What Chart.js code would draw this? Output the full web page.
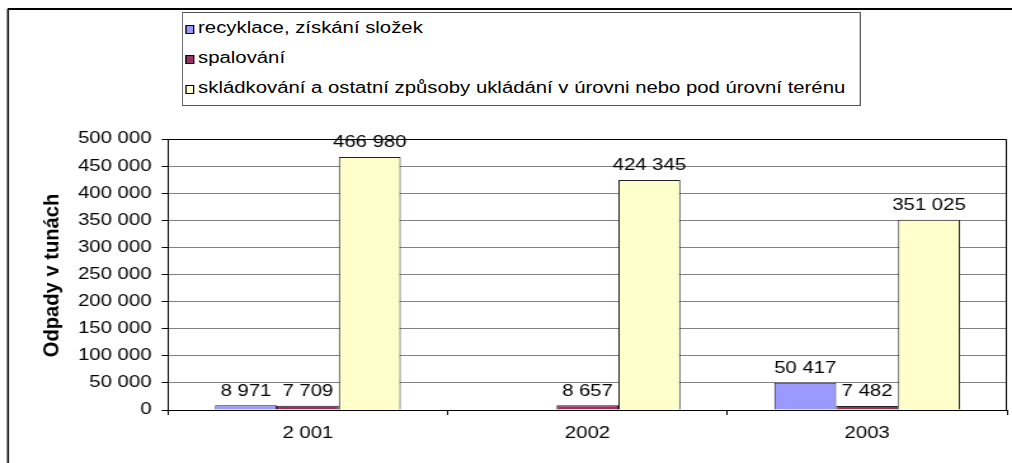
<!DOCTYPE html>
<html lang="cs">
<head>
<meta charset="utf-8">
<script src="https://cdn.jsdelivr.net/npm/chart.js@4/dist/chart.umd.min.js"></script>
<style>
  html, body { margin: 0; padding: 0; background: #fff; overflow: hidden; }
  /* the sheet is laid out narrow and stretched sideways, like the exported graph */
  #sheet {
    position: absolute; left: 0; top: 0;
    width: 797px; height: 463px;
    transform: scaleX(1.2698); transform-origin: 0 0;
  }
  #legend {
    position: absolute; left: 143px; top: 12px;
    width: 533px; height: 92px;
    border: 1px solid #555;
    background: #fff;
    font: 16px Arial, "Liberation Sans", sans-serif;
    color: #000;
  }
  #legend .row { height: 30px; line-height: 30px; white-space: nowrap; }
  #legend .box {
    display: inline-block; width: 5px; height: 7px;
    border: 1px solid #000; margin: 0 3px 0 2px; vertical-align: -1px;
  }
</style>
</head>
<body>
<div id="sheet">
  <canvas id="chart"></canvas>
  <div id="legend"></div>
</div>
<script>
const years = ["2 001", "2002", "2003"];
const recyklace = [8971, null, 50417];
const spalovani = [7709, 8657, 7482];
const skladkovani = [466980, 424345, 351025];

const seriesNames = [
  "recyklace, získání složek",
  "spalování",
  "skládkování a ostatní způsoby ukládání v úrovni nebo pod úrovní terénu"
];
const seriesColors = ["#9999FF", "#993366", "#FFFFCC"];

const yTitle = "Odpady v tunách";
const yMax = 500000;
const yStep = 50000;

// "466980" -> "466 980"
function fmt(n) {
  return String(Math.round(n)).replace(/\B(?=(\d{3})+(?!\d))/g, " ");
}

const FONT = 'Arial, "Liberation Sans", sans-serif';
Chart.defaults.font.family = FONT;
Chart.defaults.font.size = 16;
Chart.defaults.color = "#000";

const W = 797;

const framePlugin = {
  id: "frame",
  beforeDraw(chart) {
    const ctx = chart.ctx;
    ctx.save();
    ctx.strokeStyle = "#000";
    ctx.lineWidth = 2;
    ctx.beginPath();
    ctx.moveTo(6, 9);
    ctx.lineTo(W, 9);
    ctx.stroke();
    ctx.lineWidth = 1.5;
    ctx.beginPath();
    ctx.moveTo(6.3, 9);
    ctx.lineTo(6.3, chart.height);
    ctx.stroke();
    ctx.restore();
  },
  afterDraw(chart) {
    const { left, right, top, bottom } = chart.chartArea;
    const ctx = chart.ctx;
    ctx.save();
    // plot area outline on the top and right sides
    ctx.strokeStyle = "#000";
    ctx.lineWidth = 1;
    ctx.beginPath();
    ctx.moveTo(left, top + 0.5);
    ctx.lineTo(right - 0.5, top + 0.5);
    ctx.lineTo(right - 0.5, bottom);
    ctx.stroke();
    // rotated axis title, drawn a bit elongated
    ctx.fillStyle = "#000";
    ctx.font = "bold 16px " + FONT;
    ctx.textAlign = "center";
    ctx.textBaseline = "middle";
    ctx.translate(41.7, (top + bottom) / 2 + 1);
    ctx.rotate(-Math.PI / 2);
    ctx.scale(1.26, 1);
    ctx.fillText(yTitle, 0, 0);
    ctx.restore();
  }
};

const valueLabels = {
  id: "valueLabels",
  afterDatasetsDraw(chart) {
    const ctx = chart.ctx;
    ctx.save();
    ctx.font = "16px " + FONT;
    ctx.fillStyle = "#000";
    ctx.textAlign = "center";
    ctx.textBaseline = "bottom";
    chart.data.datasets.forEach((ds, i) => {
      const meta = chart.getDatasetMeta(i);
      meta.data.forEach((bar, j) => {
        const v = ds.data[j];
        if (v === null || v === undefined) return;
        ctx.fillText(fmt(v), bar.x, bar.y - 6);
      });
    });
    ctx.restore();
  }
};

const chart = new Chart(document.getElementById("chart"), {
  type: "bar",
  data: {
    labels: years,
    datasets: [recyklace, spalovani, skladkovani].map((values, i) => ({
      label: seriesNames[i],
      data: values,
      backgroundColor: seriesColors[i],
      borderColor: "#222",
      borderWidth: 1,
      categoryPercentage: 0.664,
      barPercentage: 1.0
    }))
  },
  options: {
    responsive: true,
    maintainAspectRatio: false,
    animation: false,
    layout: { padding: { top: 139, right: 4, left: 0, bottom: 0 } },
    plugins: {
      legend: { display: false },
      tooltip: { enabled: false }
    },
    scales: {
      x: {
        grid: { drawOnChartArea: false, color: "#000", tickLength: 5, offset: true },
        border: { color: "#000" },
        ticks: { padding: 9, font: { size: 16 } },
        afterFit: s => { s.height = 53; }
      },
      y: {
        min: 0,
        max: yMax,
        ticks: { stepSize: yStep, padding: 8, font: { size: 16 }, callback: v => fmt(v) },
        grid: { color: "#808080", tickColor: "#000", tickLength: 5 },
        border: { color: "#000" },
        afterFit: s => { s.width = 132.3; }
      }
    }
  },
  plugins: [framePlugin, valueLabels]
});

// legend rows built from the chart's datasets
const legend = document.getElementById("legend");
chart.data.datasets.forEach(ds => {
  const row = document.createElement("div");
  row.className = "row";
  const box = document.createElement("span");
  box.className = "box";
  box.style.background = ds.backgroundColor;
  row.appendChild(box);
  row.appendChild(document.createTextNode(ds.label));
  legend.appendChild(row);
});
</script>
</body>
</html>
